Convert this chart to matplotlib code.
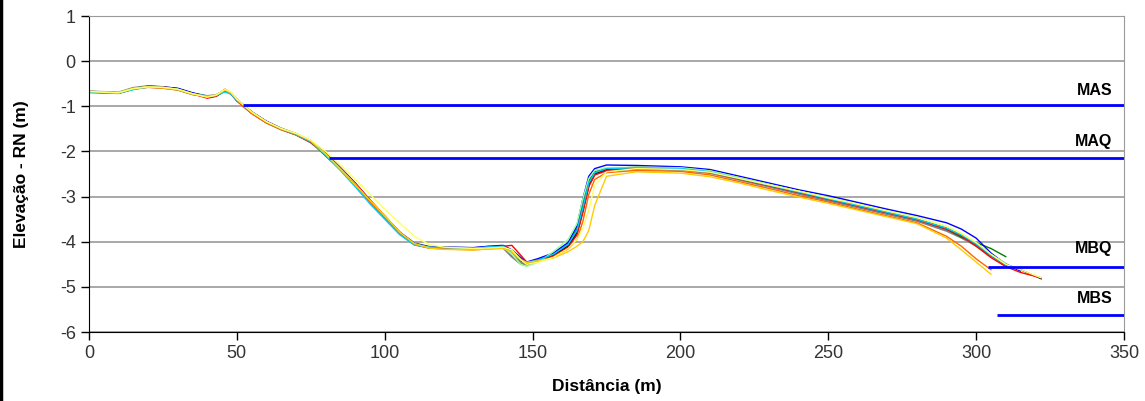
import numpy as np
import matplotlib
matplotlib.use("Agg")
import matplotlib.pyplot as plt
from matplotlib.lines import Line2D

plt.rcParams['axes.unicode_minus'] = False
nan = np.nan

# distance along the profile (m)
dist = [0, 5, 10, 15, 20, 25, 30, 35, 40, 43, 46, 48, 50, 55, 60, 65, 70, 75, 80, 85,
        90, 95, 100, 105, 110, 115, 120, 130, 135, 140, 143, 146, 148, 152, 157, 162, 165, 167, 169, 171,
        175, 185, 200, 210, 220, 230, 240, 250, 260, 270, 280, 290, 295, 300, 305, 310, 315, 322]

# elevation of each survey (m, relative to RN)
prof_black = [-0.67, -0.68, -0.70, -0.60, -0.56, -0.58, -0.62, -0.72, -0.79, -0.76, -0.63, -0.70, -0.86, -1.14, -1.35, -1.50, -1.62, -1.78, -2.05, -2.38,
              -2.72, -3.10, -3.45, -3.80, -4.05, -4.12, -4.13, -4.15, -4.12, -4.10, -4.22, -4.42, -4.47, -4.40, -4.30, -4.10, -3.80, -3.30, -2.75, -2.50,
              -2.40, -2.36, -2.38, -2.45, -2.60, -2.75, -2.90, -3.05, -3.20, -3.35, -3.50, -3.70, -3.85, -4.05, -4.30, -4.50, -4.62, -4.82]
prof_blue = [-0.68, -0.69, -0.70, -0.61, -0.56, -0.57, -0.60, -0.70, -0.78, -0.77, -0.66, -0.72, -0.86, -1.12, -1.33, -1.49, -1.61, -1.76, -2.03, -2.36,
             -2.70, -3.08, -3.44, -3.78, -4.04, -4.11, -4.12, -4.13, -4.10, -4.08, -4.18, -4.35, -4.45, -4.37, -4.25, -4.02, -3.65, -3.05, -2.55, -2.38,
             -2.30, -2.31, -2.34, -2.40, -2.55, -2.70, -2.85, -2.98, -3.13, -3.28, -3.42, -3.58, -3.72, -3.92, -4.25, -4.50, -4.65, nan]
prof_red = [-0.67, -0.69, -0.71, -0.62, -0.55, -0.57, -0.63, -0.72, -0.82, -0.78, -0.62, -0.70, -0.88, -1.15, -1.36, -1.51, -1.63, -1.80, -2.04, -2.36,
            -2.70, -3.07, -3.43, -3.80, -4.06, -4.13, -4.14, -4.16, -4.14, -4.10, -4.08, -4.30, -4.45, -4.42, -4.32, -4.12, -3.85, -3.35, -2.78, -2.52,
            -2.42, -2.37, -2.39, -2.46, -2.61, -2.76, -2.91, -3.06, -3.21, -3.36, -3.51, -3.72, -3.87, -4.10, -4.35, -4.55, -4.68, -4.80]
prof_orange = [-0.68, -0.70, -0.71, -0.62, -0.58, -0.60, -0.64, -0.74, -0.79, -0.76, -0.64, -0.71, -0.87, -1.16, -1.37, -1.52, -1.63, -1.77, -2.08, -2.40,
               -2.73, -3.12, -3.47, -3.82, -4.07, -4.14, -4.16, -4.18, -4.16, -4.14, -4.20, -4.38, -4.48, -4.44, -4.34, -4.16, -3.95, -3.55, -2.95, -2.62,
               -2.47, -2.42, -2.44, -2.52, -2.67, -2.82, -2.98, -3.12, -3.28, -3.43, -3.58, -3.88, -4.10, -4.38, -4.62, nan, nan, nan]
prof_gold = [-0.67, -0.68, -0.70, -0.60, -0.57, -0.59, -0.63, -0.73, -0.78, -0.75, -0.64, -0.70, -0.84, -1.12, -1.34, -1.50, -1.60, -1.76, -2.06, -2.40,
             -2.74, -3.08, -3.42, -3.78, -4.04, -4.14, -4.17, -4.18, -4.16, -4.15, -4.22, -4.40, -4.46, -4.42, -4.36, -4.22, -4.10, -4.00, -3.75, -3.20,
             -2.55, -2.45, -2.48, -2.56, -2.70, -2.86, -3.01, -3.15, -3.30, -3.45, -3.60, -3.92, -4.18, -4.45, -4.72, nan, nan, nan]
prof_lightyellow = [-0.67, -0.69, -0.70, -0.61, -0.57, -0.58, -0.62, -0.72, -0.80, -0.75, -0.62, -0.68, -0.84, -1.13, -1.34, -1.49, -1.60, -1.75, -2.00, -2.30,
                    -2.62, -2.95, -3.28, -3.58, -3.88, -4.06, -4.12, -4.15, -4.14, -4.12, -4.18, -4.40, -4.50, -4.45, -4.35, -4.15, -3.95, -3.70, -3.30, -2.75,
                    -2.45, -2.38, -2.40, -2.46, -2.60, -2.74, -2.88, -3.03, -3.17, -3.32, -3.47, -3.66, -3.82, -4.02, -4.28, -4.50, -4.62, -4.80]
prof_green = [-0.68, -0.70, -0.70, -0.61, -0.56, -0.58, -0.61, -0.71, -0.79, -0.77, -0.64, -0.70, -0.85, -1.13, -1.35, -1.50, -1.61, -1.78, -2.10, -2.40,
              -2.72, -3.10, -3.46, -3.81, -4.06, -4.13, -4.14, -4.15, -4.12, -4.10, -4.20, -4.38, -4.46, -4.40, -4.28, -4.06, -3.72, -3.20, -2.65, -2.45,
              -2.38, -2.35, -2.37, -2.44, -2.59, -2.74, -2.89, -3.04, -3.19, -3.34, -3.49, -3.72, -3.90, -4.02, -4.15, -4.33, nan, nan]
prof_gray = [-0.68, -0.69, -0.70, -0.60, -0.56, -0.58, -0.62, -0.72, -0.78, -0.76, -0.65, -0.71, -0.86, -1.14, -1.35, -1.50, -1.62, -1.79, -2.06, -2.38,
             -2.72, -3.10, -3.45, -3.80, -4.04, -4.12, -4.13, -4.15, -4.12, -4.12, -4.32, -4.48, -4.50, -4.42, -4.30, -4.08, -3.78, -3.28, -2.72, -2.50,
             -2.42, -2.38, -2.40, -2.47, -2.62, -2.77, -2.93, -3.08, -3.23, -3.38, -3.53, -3.75, -3.90, -4.08, -4.30, -4.50, nan, nan]
prof_cyan = [-0.69, -0.70, -0.71, -0.63, -0.57, -0.58, -0.63, -0.73, -0.77, -0.76, -0.68, -0.73, -0.86, -1.12, -1.34, -1.50, -1.62, -1.78, -2.08, -2.42,
             -2.78, -3.16, -3.50, -3.84, -4.07, -4.13, -4.13, -4.14, -4.12, -4.10, -4.20, -4.40, -4.46, -4.40, -4.28, -4.06, -3.75, -3.25, -2.70, -2.47,
             -2.38, -2.36, -2.38, -2.45, -2.60, -2.75, -2.90, -3.05, -3.20, -3.35, -3.50, -3.70, -3.85, -4.05, -4.30, -4.50, -4.62, nan]
prof_lightgreen = [-0.67, -0.68, -0.69, -0.60, -0.56, -0.58, -0.62, -0.72, -0.78, -0.76, -0.64, -0.70, -0.85, -1.13, -1.35, -1.50, -1.62, -1.78, -2.05, -2.38,
                   -2.72, -3.10, -3.45, -3.80, -4.05, -4.12, -4.13, -4.15, -4.12, -4.12, -4.28, -4.50, -4.55, -4.45, -4.22, -3.95, -3.60, -3.05, -2.60, -2.42,
                   -2.36, -2.35, -2.36, -2.43, -2.58, -2.73, -2.88, -3.02, -3.17, -3.32, -3.46, -3.66, -3.82, -4.02, -4.28, -4.48, nan, nan]

profiles = [(prof_gray, '#808080', 2.0), (prof_green, '#008000', 1.0), (prof_black, '#000000', 1.0),
            (prof_blue, '#0000FF', 1.0), (prof_red, '#FF0000', 1.0), (prof_lightgreen, '#99FF99', 1.0),
            (prof_orange, '#FF6600', 1.0), (prof_cyan, '#00CCFF', 1.0), (prof_gold, '#FFCC00', 1.0),
            (prof_lightyellow, '#FFFF66', 1.0)]

# tide levels: name, elevation, start distance
level_names = ['MAS', 'MAQ', 'MBQ', 'MBS']
level_values = [-0.98, -2.15, -4.56, -5.63]
level_start = [52, 81, 304, 307]
label_y = [-0.64, -1.79, -4.16, -5.25]

fig = plt.figure(figsize=(11.45, 4.01), dpi=100)
ax = fig.add_axes([0.0777, 0.172, 0.904, 0.788])

for y, c, lw in profiles:
    ax.plot(dist, y, color=c, lw=lw, solid_joinstyle='round')

for name, lv, x0, ly in zip(level_names, level_values, level_start, label_y):
    ax.hlines(lv, x0, 350, color='#0000FF', lw=2)
    ax.text(346, ly, name, ha='right', va='center', fontsize=11.5, fontweight='bold',
            family='Liberation Sans')

ax.set_xlim(0, 350)
ax.set_ylim(-6, 1)
ax.set_xticks(range(0, 351, 50))
ax.set_yticks(range(-6, 2))
ax.yaxis.grid(True, color='#9a9a9a', lw=1.2)
ax.set_axisbelow(True)
ax.tick_params(direction='out', length=6, width=1, labelsize=13, labelcolor='#333333',
               colors='black')
for lab in ax.get_xticklabels() + ax.get_yticklabels():
    lab.set_family('Liberation Sans')
ax.spines['top'].set_color('#9a9a9a')
ax.spines['right'].set_color('#9a9a9a')
ax.spines['left'].set_color('black')
ax.spines['bottom'].set_color('black')

ax.set_xlabel('Distância (m)', fontsize=12.5, fontweight='bold', family='Liberation Sans', labelpad=12)
ax.set_ylabel('Elevação - RN (m)', fontsize=12.5, fontweight='bold', family='Liberation Sans', labelpad=22)

# left border of the chart area
fig.add_artist(Line2D([0.001, 0.001], [0, 1], transform=fig.transFigure, color='black', lw=2.5))

fig.savefig('out.png', dpi=100)
